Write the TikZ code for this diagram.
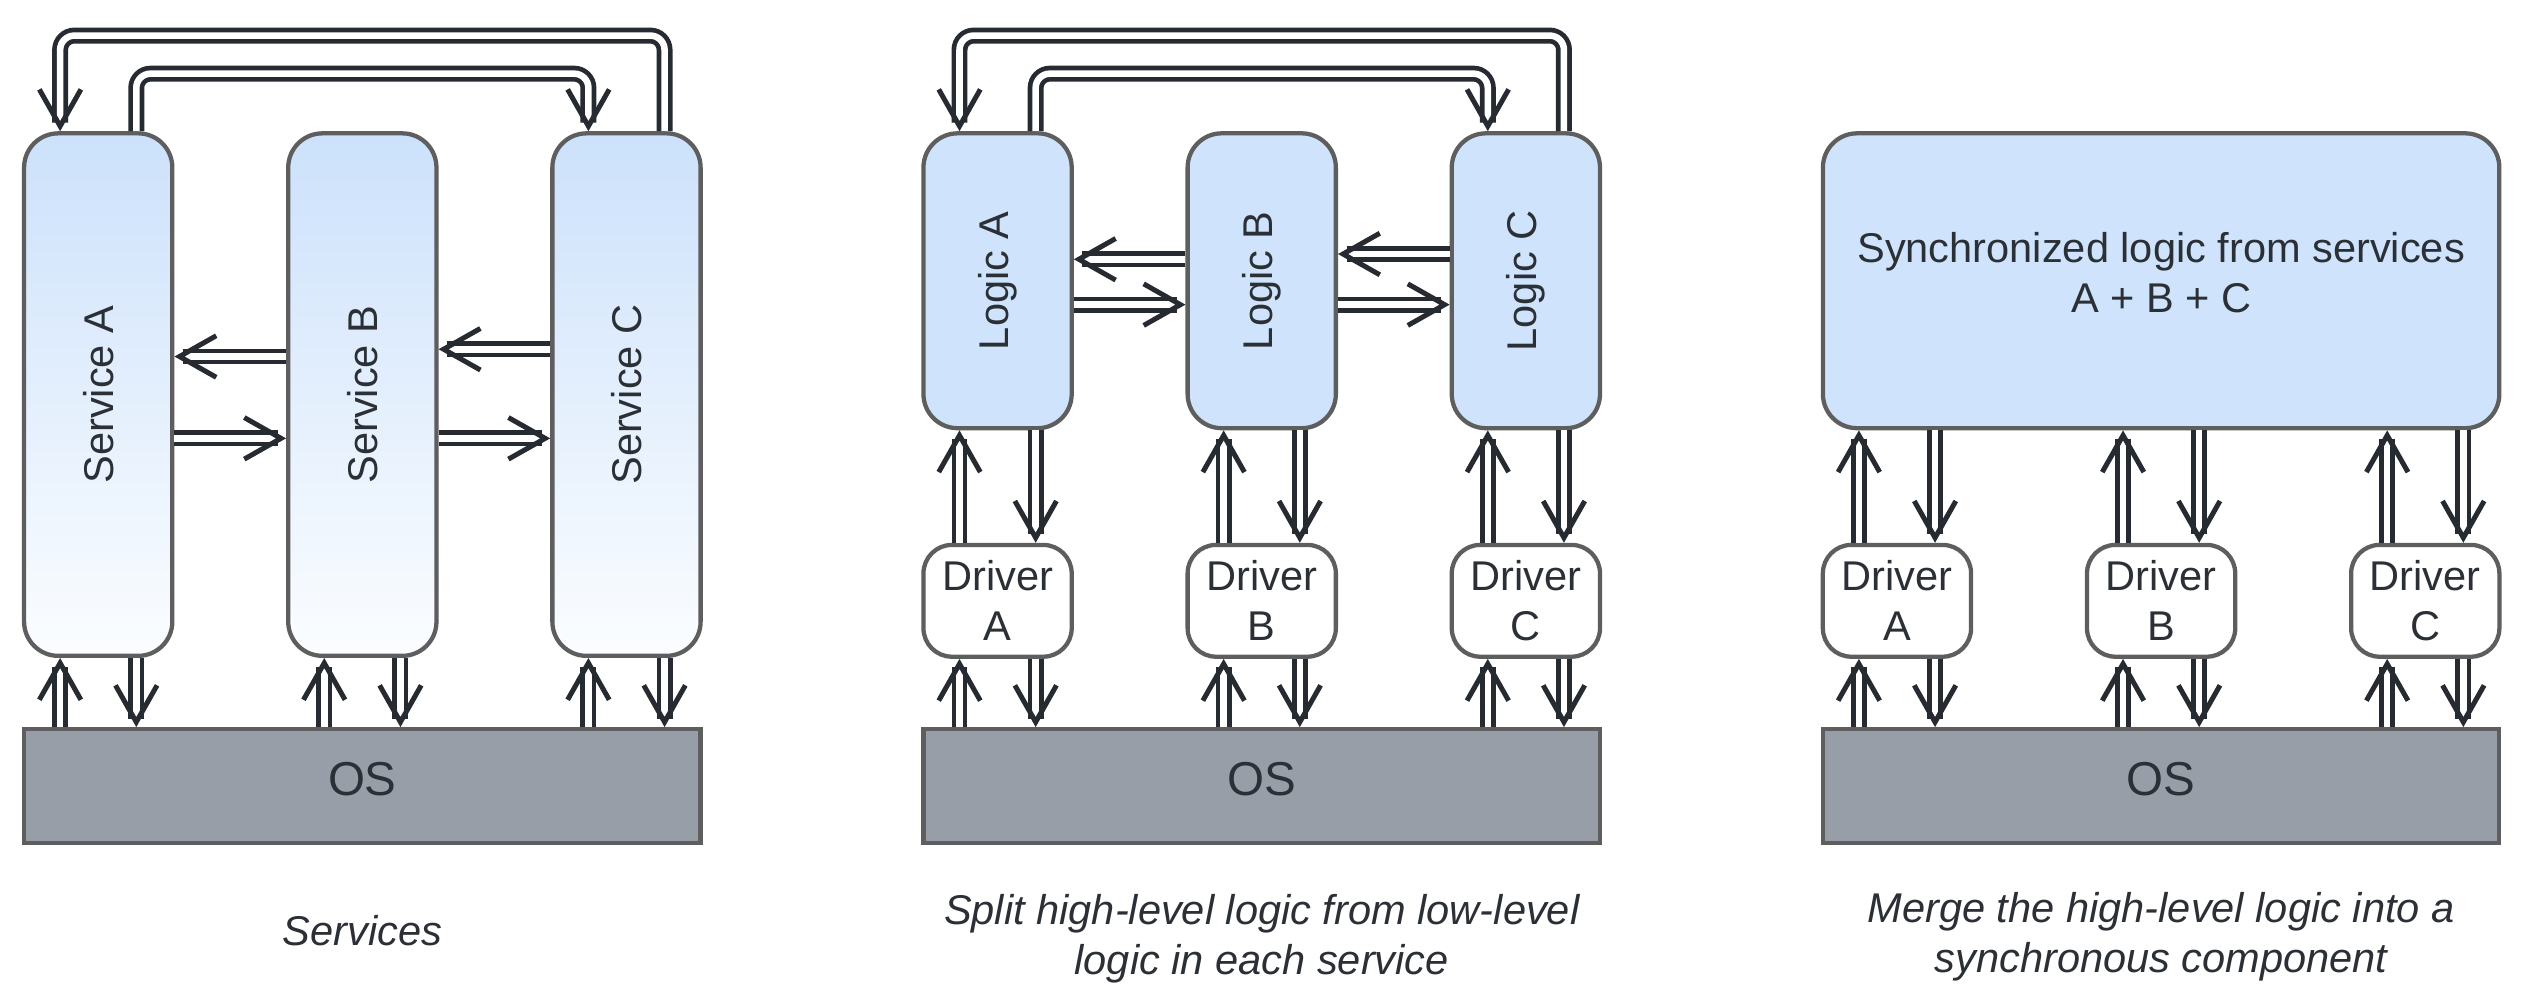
\documentclass[tikz,border=0pt]{standalone}
\usepackage{fontspec}
\setmainfont{Liberation Sans}
\usetikzlibrary{arrows.meta}

\definecolor{ink}{HTML}{262A31}
\definecolor{edge}{HTML}{5E5E5E}
\definecolor{logicblue}{HTML}{CFE4FC}
\definecolor{svctop}{HTML}{CCE1FB}
\definecolor{svcbot}{HTML}{FBFDFF}
\definecolor{osgray}{HTML}{979EA8}
\definecolor{txt}{HTML}{2B2F36}

\begin{document}
\begin{tikzpicture}[x=0.02cm,y=-0.02cm,
		box/.style={draw=edge,line width=1.5pt,rounded corners=12pt,minimum width=1.83cm,inner sep=0pt,
			text=txt,align=center,font=\fontsize{14.6}{17.6}\selectfont},
		service/.style={box,top color=svctop,bottom color=svcbot,minimum height=6.45cm},
		logic/.style={box,fill=logicblue,minimum height=3.64cm},
		driver/.style={box,fill=white,rounded corners=10pt,minimum height=1.38cm},
		os/.style={draw=edge,line width=1.5pt,fill=osgray,minimum width=8.35cm,minimum height=1.4cm,
			text=txt,text depth=0.176cm,font=\fontsize{16.7}{20}\selectfont},
		caption/.style={text=txt,align=center,font=\fontsize{14.6}{17.6}\selectfont\itshape},
		flow/.style={draw=white,line width=2.3pt,
			-{Straight Barb[color=ink,line width=1.75pt,length=12.9pt,width=14.6pt]},
			preaction={draw=ink,line width=5.6pt,arrows=-,shorten >=3pt}}]
		
		\useasboundingbox (0,0) rectangle (1560,620.2);
		
		% services
		\foreach \n/\x in {A/60.6,B/223.6,C/386.6}
			\node[service] (svc\n) at (\x,243.5) {\rotatebox{90}{Service \n}};
		\node[os] (os1) at (223.6,485) {OS};
		\node[caption] (cap1) at (223.6,574) {Services};
		
		% split logic
		\foreach \n/\x in {A/615.6,B/778.6,C/941.6} {
			\node[logic] (logic\n) at (\x,173.25) {\rotatebox{90}{Logic \n}};
			\node[driver] (drvB\n) at (\x,370.75) {Driver\\\n};
		}
		\node[os] (os2) at (778.6,485) {OS};
		\node[caption] (cap2) at (778.6,579.5) {Split high-level logic from low-level\\logic in each service};
		
		% merged logic
		\node[box,fill=logicblue,minimum width=8.35cm,minimum height=3.64cm,text depth=0.2cm] (sync) at (1333.6,173.25)
			{Synchronized logic from services\\A + B + C};
		\foreach \n/\x in {A/1170.6,B/1333.6,C/1496.6}
			\node[driver] (drvC\n) at (\x,370.75) {Driver\\\n};
		\node[os] (os3) at (1333.6,485) {OS};
		\node[caption] (cap3) at (1333.6,578) {Merge the high-level logic into a\\synchronous component};
		
		% connectors
		\foreach \n in {A,B,C} {
			\draw[flow] ([xshift=-4.7mm]svc\n.south |- os1.north) -- ([xshift=-4.7mm]svc\n.south);
			\draw[flow] ([xshift=4.7mm]svc\n.south) -- ([xshift=4.7mm]svc\n.south |- os1.north);
			\draw[flow] ([xshift=-4.7mm]drvB\n.north) -- ([xshift=-4.7mm]logic\n.south);
			\draw[flow] ([xshift=4.7mm]logic\n.south) -- ([xshift=4.7mm]drvB\n.north);
			\draw[flow] ([xshift=-4.7mm]drvB\n.south |- os2.north) -- ([xshift=-4.7mm]drvB\n.south);
			\draw[flow] ([xshift=4.7mm]drvB\n.south) -- ([xshift=4.7mm]drvB\n.south |- os2.north);
			\draw[flow] ([xshift=-4.7mm]drvC\n.north) -- ([xshift=-4.7mm]drvC\n.north |- sync.south);
			\draw[flow] ([xshift=4.7mm]drvC\n.north |- sync.south) -- ([xshift=4.7mm]drvC\n.north);
			\draw[flow] ([xshift=-4.7mm]drvC\n.south |- os3.north) -- ([xshift=-4.7mm]drvC\n.south);
			\draw[flow] ([xshift=4.7mm]drvC\n.south) -- ([xshift=4.7mm]drvC\n.south |- os3.north);
		}
		\draw[flow] ([yshift=4.7mm]svcB.west) -- ([yshift=4.7mm]svcA.east);
		\draw[flow] ([yshift=-5.4mm]svcA.east) -- ([yshift=-5.4mm]svcB.west);
		\draw[flow] ([yshift=5.6mm]svcC.west) -- ([yshift=5.6mm]svcB.east);
		\draw[flow] ([yshift=-5.4mm]svcB.east) -- ([yshift=-5.4mm]svcC.west);
		\draw[flow] ([yshift=2.65mm]logicB.west) -- ([yshift=2.65mm]logicA.east);
		\draw[flow] ([yshift=-2.95mm]logicA.east) -- ([yshift=-2.95mm]logicB.west);
		\draw[flow] ([yshift=3.3mm]logicC.west) -- ([yshift=3.3mm]logicB.east);
		\draw[flow] ([yshift=-2.95mm]logicB.east) -- ([yshift=-2.95mm]logicC.west);
		\draw[flow,rounded corners=5pt] ([xshift=4.7mm]svcC.north) -- ++(0,-59) -| ([xshift=-4.7mm]svcA.north);
		\draw[flow,rounded corners=5pt] ([xshift=4.7mm]svcA.north) -- ++(0,-35.5) -| ([xshift=-4.7mm]svcC.north);
		\draw[flow,rounded corners=5pt] ([xshift=4.7mm]logicC.north) -- ++(0,-59) -| ([xshift=-4.7mm]logicA.north);
		\draw[flow,rounded corners=5pt] ([xshift=4.7mm]logicA.north) -- ++(0,-35.5) -| ([xshift=-4.7mm]logicC.north);
	\end{tikzpicture}
\end{document}
